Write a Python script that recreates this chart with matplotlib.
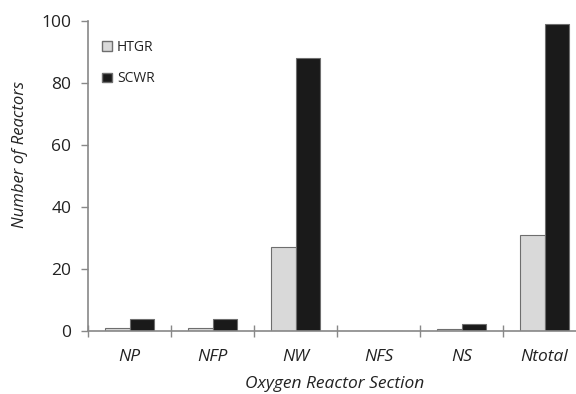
import matplotlib
matplotlib.use("Agg")
import matplotlib.pyplot as plt
from matplotlib.patches import Patch
import numpy as np

categories = ["NP", "NFP", "NW", "NFS", "NS", "Ntotal"]
htgr = [1, 1, 27, 0, 0.5, 31]
scwr = [4, 4, 88, 0, 2.4, 99]

plt.rcParams['font.family'] = ['Open Sans', 'DejaVu Sans']

W, H = 576, 394
fig = plt.figure(figsize=(W/100, H/100), dpi=100)
x0, x1 = 88, 586
y0, y1 = 331, 21
ax = fig.add_axes([x0/W, 1 - y0/H, (x1-x0)/W, (y0-y1)/H])

x = np.arange(len(categories)) + 0.5
bw = 0.29
ax.bar(x - bw/2, htgr, bw, color="#d9d9d9", edgecolor="#6e6e6e", linewidth=0.8, label="HTGR")
ax.bar(x + bw/2, scwr, bw, color="#1a1a1a", edgecolor="#6e6e6e", linewidth=0.8, label="SCWR")

ax.set_xlim(0, len(categories))
ax.set_ylim(0, 100)
ax.set_yticks(range(0, 101, 20))
ax.set_xticks(np.arange(len(categories) + 1), minor=False)
ax.set_xticklabels([])
ax.set_xticks(x, minor=True)
ax.set_xticklabels(categories, minor=True, fontstyle='italic', fontsize=12.5, color="#222222")
ax.tick_params(axis='x', which='minor', length=0, pad=13)
ax.tick_params(axis='x', which='major', direction='inout', length=9, color="#888888", width=1)
ax.tick_params(axis='y', direction='out', length=5, color="#888888", width=1, labelsize=12.5, labelcolor="#222222", pad=7)

for s in ['top', 'right']:
    ax.spines[s].set_visible(False)
for s in ['left', 'bottom']:
    ax.spines[s].set_color("#888888")
    ax.spines[s].set_linewidth(1.2)

ax.set_ylabel("Number of Reactors", fontstyle='italic', fontsize=12, color="#222222")
ax.yaxis.set_label_coords(-(88 - 28) / (x1 - x0), (331 - 155) / 310)
ax.set_xlabel("Oxygen Reactor Section", fontstyle='italic', fontsize=12.5, color="#222222")
ax.xaxis.set_label_coords((335 - x0) / (x1 - x0), -(376 - y0) / 310)

handles = [Patch(facecolor="#d9d9d9", edgecolor="#6e6e6e", label="HTGR"),
           Patch(facecolor="#1a1a1a", edgecolor="#6e6e6e", label="SCWR")]
ax.legend(handles=handles, loc='upper left', bbox_to_anchor=(0.004, 0.98), frameon=False,
          fontsize=10, handlelength=0.7, handleheight=0.7, handletextpad=0.35, labelspacing=1.2,
          labelcolor="#222222")

fig.savefig("out.png", dpi=100)
